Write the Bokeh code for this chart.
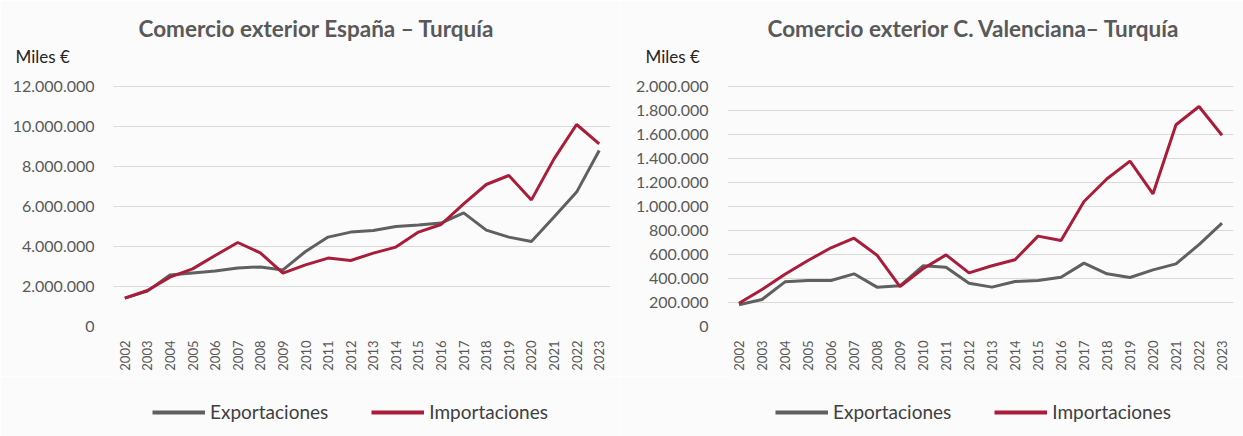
from bokeh.plotting import figure
from bokeh.models import Title, Legend, LegendItem, FixedTicker, Range1d, ColumnDataSource
from bokeh.layouts import row, column
from bokeh.embed import file_html
from bokeh.resources import INLINE
import math

years = [str(y) for y in range(2002, 2024)]

esp_export = [1420000, 1770000, 2580000, 2680000, 2770000, 2930000, 2980000, 2830000, 3750000, 4470000,
              4720000, 4800000, 5000000, 5070000, 5170000, 5680000, 4820000, 4470000, 4250000, 5470000,
              6720000, 8800000]
esp_import = [1420000, 1800000, 2470000, 2880000, 3550000, 4200000, 3680000, 2670000, 3080000, 3420000,
              3300000, 3670000, 3970000, 4720000, 5100000, 6130000, 7100000, 7550000, 6330000, 8380000,
              10100000, 9130000]

val_export = [181000, 225000, 372000, 383000, 383000, 439000, 328000, 339000, 506000, 494000,
              361000, 328000, 375000, 383000, 411000, 528000, 439000, 408000, 472000, 522000,
              683000, 861000]
val_import = [194000, 308000, 436000, 550000, 656000, 736000, 594000, 333000, 481000, 597000,
              447000, 506000, 556000, 753000, 717000, 1042000, 1231000, 1378000, 1106000, 1681000,
              1833000, 1594000]

left_ticks = [0, 2000000, 4000000, 6000000, 8000000, 10000000, 12000000]
left_tick_labels = ["0", "2.000.000", "4.000.000", "6.000.000", "8.000.000", "10.000.000", "12.000.000"]
right_ticks = [0, 200000, 400000, 600000, 800000, 1000000, 1200000, 1400000, 1600000, 1800000, 2000000]
right_tick_labels = ["0", "200.000", "400.000", "600.000", "800.000", "1.000.000", "1.200.000",
                     "1.400.000", "1.600.000", "1.800.000", "2.000.000"]

titles = ["Comercio exterior España – Turquía", "Comercio exterior C. Valenciana– Turquía"]
series_names = ["Exportaciones", "Importaciones"]
unit_label = "Miles €"

FONT = "Lato"
GRAY = "#606060"
RED = "#a91d3a"
BG = "#fbfbfb"
MAIN_H = 376
LEGEND_H = 60
TOP = 66            # frame top (px); top gridline sits 20px lower
HEADROOM = 260 / 240  # frame height / gridded height


def make_chart(title, exp, imp, ticks, tick_labels, width, left, title_off, miles_off, legend_x):
    src = ColumnDataSource(dict(year=years, exp=exp, imp=imp))

    p = figure(width=width, height=MAIN_H, x_range=years, y_range=Range1d(0, ticks[-1] * HEADROOM),
               output_backend="svg", toolbar_location=None,
               min_border_left=left, min_border_right=10, min_border_top=TOP, min_border_bottom=50)
    p.background_fill_color = BG
    p.border_fill_color = BG
    p.outline_line_color = None
    p.line("year", "exp", source=src, line_color=GRAY, line_width=3)
    p.line("year", "imp", source=src, line_color=RED, line_width=3)

    p.yaxis.ticker = FixedTicker(ticks=ticks)
    p.yaxis.major_label_overrides = {t: l for t, l in zip(ticks, tick_labels)}
    p.yaxis.axis_line_color = None
    p.yaxis.major_tick_line_color = None
    p.yaxis.minor_tick_line_color = None
    p.yaxis.major_label_text_font = FONT
    p.yaxis.major_label_text_font_size = "16px"
    p.yaxis.major_label_text_color = "#595959"
    p.yaxis.major_label_standoff = 13

    p.xaxis.axis_line_color = None
    p.xaxis.major_tick_line_color = None
    p.xaxis.major_label_orientation = math.pi / 2
    p.xaxis.major_label_text_font = FONT
    p.xaxis.major_label_text_font_size = "13px"
    p.xaxis.major_label_text_color = "#595959"
    p.xaxis.major_label_standoff = 8

    p.xgrid.grid_line_color = None
    p.ygrid.grid_line_color = "#d9d9d9"
    p.ygrid.grid_line_width = 1
    p.ygrid.ticker = FixedTicker(ticks=ticks)

    # outer title: chart title; inner title (closest to frame): unit label
    p.title.text = title
    p.title.align = "left"
    p.title.offset = title_off
    p.title.text_font = FONT
    p.title.text_font_style = "bold"
    p.title.text_font_size = "22.5px"
    p.title.text_color = "#595959"
    p.title.standoff = 4
    p.add_layout(Title(text=unit_label, align="left", offset=miles_off, text_font=FONT,
                       text_font_style="normal", text_font_size="17px", text_color="#262626",
                       standoff=0), "above")

    # legend strip (series drawn again only as legend glyph sources; they fall outside its range)
    lg = figure(width=width, height=LEGEND_H, x_range=years, y_range=Range1d(0, 1),
                output_backend="svg", toolbar_location=None,
                x_axis_location=None, y_axis_location=None,
                min_border=0, min_border_left=0, min_border_right=0, min_border_top=0, min_border_bottom=0)
    lg.grid.visible = False
    lg.outline_line_color = None
    lg.background_fill_color = BG
    lg.border_fill_color = BG
    l1 = lg.line("year", "exp", source=src, line_color=GRAY, line_width=4)
    l2 = lg.line("year", "imp", source=src, line_color=RED, line_width=4)
    legend = Legend(items=[LegendItem(label=series_names[0], renderers=[l1]),
                           LegendItem(label=series_names[1], renderers=[l2])],
                    orientation="horizontal", location=(legend_x, 13),
                    label_text_font=FONT, label_text_font_size="19px", label_text_color="#404040",
                    glyph_width=53, glyph_height=20, label_standoff=5, spacing=43,
                    padding=0, margin=0, border_line_color=None, background_fill_alpha=0)
    lg.add_layout(legend, "center")

    return column(p, lg, spacing=0)


c1 = make_chart(titles[0], esp_export, esp_import, left_ticks, left_tick_labels,
                620, 113, 25, -98, 39)
c2 = make_chart(titles[1], val_export, val_import, right_ticks, right_tick_labels,
                623, 107, 40, -82, 48)

layout = row(c1, c2, spacing=0)
open("out.html", "w").write(file_html(layout, INLINE))
